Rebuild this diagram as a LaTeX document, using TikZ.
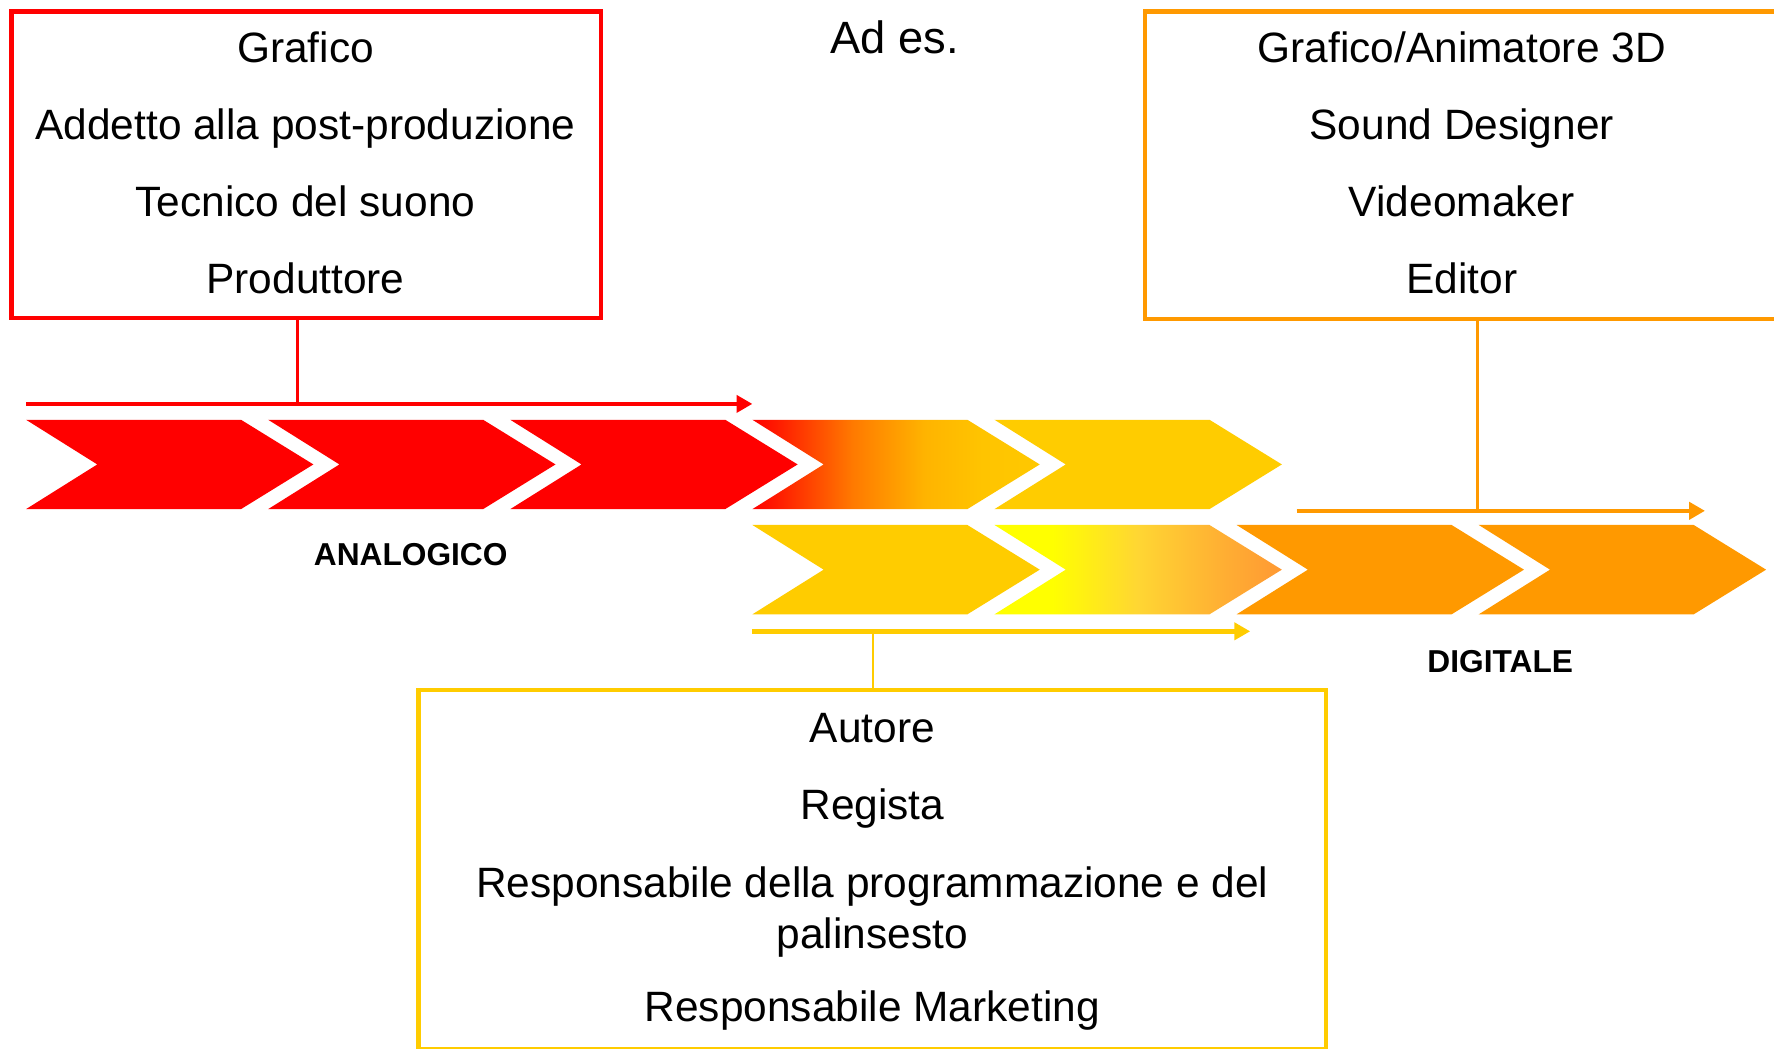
\documentclass[tikz,border=0pt]{standalone}
\usepackage{fontspec}
\setmainfont{Liberation Sans}
\usetikzlibrary{arrows.meta}
\definecolor{cred}{HTML}{FF0000}
\definecolor{corange}{HTML}{FF9900}
\definecolor{cyellow}{HTML}{FFCC00}
\definecolor{gA}{HTML}{FF2000}
\definecolor{gB}{HTML}{FF7A00}
\definecolor{gC}{HTML}{FFB400}
\definecolor{gD}{HTML}{FFC400}
\definecolor{gE}{HTML}{FFC800}
\definecolor{hA}{HTML}{FFFF00}
\definecolor{hB}{HTML}{FFD633}
\definecolor{hC}{HTML}{FFAE33}
\definecolor{hD}{HTML}{FF9933}
\pgfdeclarehorizontalshading{redyel}{100bp}{color(0bp)=(cred); color(25bp)=(cred); color(30bp)=(gA); color(42.5bp)=(gB); color(55bp)=(gC); color(65bp)=(gD); color(75bp)=(gE); color(100bp)=(gE)}
\pgfdeclarehorizontalshading{yelor}{100bp}{color(0bp)=(hA); color(25bp)=(hA); color(35bp)=(hA); color(50bp)=(hB); color(65bp)=(hC); color(75bp)=(hD); color(100bp)=(hD)}
\newcommand\mychev[3]{\path[#1] (#2,#3) -- ++(190,0) -- ++(64,39.5) -- ++(-64,39.5) -- ++(-190,0) -- ++(63,-39.5) -- cycle;}
\begin{document}
\begin{tikzpicture}[x=1pt,y=-1pt,
  txt/.style={font=\fontsize{37.5}{45}\selectfont, anchor=base, inner sep=0pt},
  lbl/.style={font=\bfseries\fontsize{28}{34}\selectfont, anchor=base, inner sep=0pt},
  boxst/.style={draw, line width=4pt, inner sep=0pt},
  arr/.style={line width=4pt, -{Triangle[length=14pt,width=15pt]}},
  conn/.style={line width=#1},
  conn/.default=2pt]
\useasboundingbox (0,0) rectangle (1568,927);
\fill[white] (0,0) rectangle (1568,927);

% boxes
\node[boxst, draw=cred, minimum width=521pt, minimum height=271pt] (redbox) at (270.5,145.5) {};
\node[boxst, draw=corange, minimum width=568pt, minimum height=272pt] (orbox) at (1296,146) {};
\node[boxst, draw=cyellow, minimum width=802pt, minimum height=317pt] (yebox) at (771,768.5) {};

% texts red box
\node[txt] (r1) at (270,55) {Grafico};
\node[txt] (r2) at (270,123) {Addetto alla post-produzione};
\node[txt] (r3) at (270,191) {Tecnico del suono};
\node[txt] (r4) at (270,259) {Produttore};

% texts orange box
\node[txt] (o1) at (1292,55) {Grafico/Animatore 3D};
\node[txt] (o2) at (1292,123) {Sound Designer};
\node[txt] (o3) at (1292,191) {Videomaker};
\node[txt] (o4) at (1292,259) {Editor};

% texts yellow box
\node[txt] (y1) at (771,656) {Autore};
\node[txt] (y2) at (771,724) {Regista};
\node[txt] (y3) at (771,793) {Responsabile della programmazione e del};
\node[txt] (y4) at (771,838) {palinsesto};
\node[txt] (y5) at (771,903) {Responsabile Marketing};

\node[txt, font=\fontsize{40}{48}\selectfont] (ades) at (791,47.5) {Ad es.};

% chevrons row 1
\mychev{fill=cred}{23}{371}
\mychev{fill=cred}{237}{371}
\mychev{fill=cred}{451}{371}
\mychev{shading=redyel}{665}{371}
\mychev{fill=cyellow}{879}{371}
% chevrons row 2
\mychev{fill=cyellow}{665}{464}
\mychev{shading=yelor}{879}{464}
\mychev{fill=corange}{1093}{464}
\mychev{fill=corange}{1307}{464}

\node[lbl] (analog) at (363,500) {ANALOGICO};
\node[lbl] (digit) at (1326,594) {DIGITALE};

% arrows and connectors
\coordinate (ra1) at (23,357);
\coordinate (ra2) at (665,357);
\coordinate (rj) at (263,357);
\draw[arr, draw=cred, fill=cred] (ra1) -- (ra2);
\draw[conn=3pt, draw=cred] (redbox.south -| rj) -- (rj);

\coordinate (oa1) at (1146,451.5);
\coordinate (oa2) at (1507,451.5);
\coordinate (oj) at (1306,451.5);
\draw[arr, draw=corange, fill=corange] (oa1) -- (oa2);
\draw[conn=2.5pt, draw=corange] (orbox.south -| oj) -- (oj);

\coordinate (ya1) at (665,558);
\coordinate (ya2) at (1105,558);
\coordinate (yj) at (771.5,558);
\draw[arr, draw=cyellow, fill=cyellow] (ya1) -- (ya2);
\draw[conn=1.5pt, draw=cyellow] (yj) -- (yebox.north -| yj);
\end{tikzpicture}
\end{document}
